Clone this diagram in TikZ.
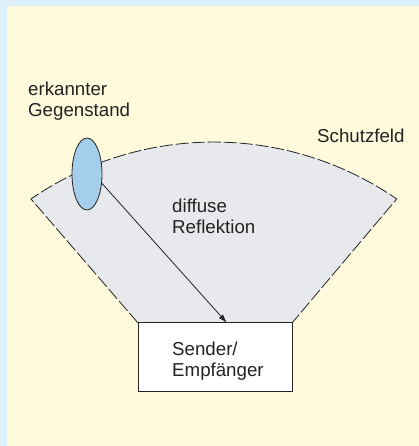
\documentclass[tikz,border=0pt]{standalone}
\usepackage{fontspec}
\setmainfont{Liberation Sans}
\usetikzlibrary{shapes.geometric,arrows.meta}
\definecolor{outerblue}{RGB}{221,240,251}
\definecolor{cream}{RGB}{255,250,220}
\definecolor{fangray}{RGB}{232,233,236}
\definecolor{objblue}{RGB}{165,205,236}
\definecolor{ink}{RGB}{35,35,35}
\tikzset{
  lbl/.style={font=\fontsize{18.7}{21.5}\selectfont, text=ink, align=left, inner sep=0pt},
  fieldedge/.style={draw=ink, line width=0.8pt, dash pattern=on 13pt off 3pt},
}
\begin{document}
\begin{tikzpicture}[x=1pt,y=1pt]
\useasboundingbox (0,0) rectangle (419,446);
\fill[outerblue] (0,0) rectangle (419,446);
\fill[cream] (7,0) rectangle (419,440);
% field
\coordinate (bl) at (138,123);
\coordinate (br) at (292,123);
\coordinate (fl) at (31,247);
\fill[fangray] (bl) -- (fl) arc[start angle=124.6, end angle=55.4, radius=322] -- (br) -- cycle;
\draw[fieldedge] (bl) -- (fl) arc[start angle=124.6, end angle=55.4, radius=322] -- (br);
% sender box
\node[draw=ink, fill=white, line width=0.8pt, minimum width=154pt, minimum height=69pt, inner sep=0pt, anchor=south west] (box) at (138,54) {};
\node[lbl, anchor=base west] (boxtxt) at (172,69) {Sender/\\Empfänger};
% object
\node[ellipse, draw=ink, fill=objblue, line width=0.8pt, minimum width=30pt, minimum height=72pt, inner sep=0pt] (obj) at (87,272) {};
\draw[ink, line width=0.8pt, -{Latex[length=9pt,width=5.5pt]}] (obj.-32) -- (227,123);
% labels
\node[lbl, anchor=base west] (objlbl) at (28,329) {erkannter\\Gegenstand};
\node[lbl, anchor=base west] (fieldlbl) at (317,303) {Schutzfeld};
\node[lbl, anchor=base west] (refllbl) at (172,212) {diffuse\\Reflektion};
\end{tikzpicture}
\end{document}
